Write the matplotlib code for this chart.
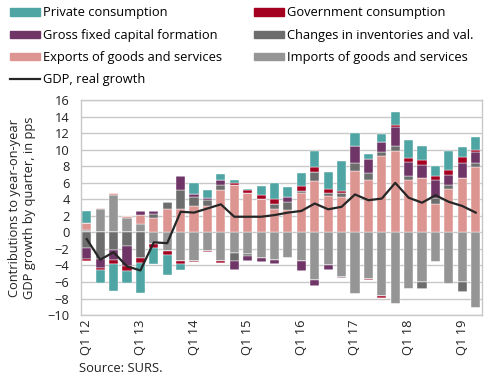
import numpy as np
import matplotlib
matplotlib.use("Agg")
import matplotlib.pyplot as plt
from matplotlib.patches import Patch
from matplotlib.lines import Line2D

plt.rcParams['font.family'] = ['Open Sans', 'DejaVu Sans']

quarters = [f"Q{q} {y}" for y in range(12, 20) for q in range(1, 5)][:30]
tick_labels = ["Q1 12", "Q1 13", "Q1 14", "Q1 15", "Q1 16", "Q1 17", "Q1 18", "Q1 19"]

private = [1.5, -1.5, -3.25, -1.45, -3.65, -1.9, -2.4, -0.7, 1.4, 0.9,
           0.7, 0.4, 0.2, 1.1, 1.9, 1.2, 1.6, 2.0, 2.1, 3.6,
           1.5, 0.7, 0.9, 1.6, 2.1, 1.7, 1.2, 2.3, 1.25, 1.6]
government = [-0.3, -0.3, -0.55, -0.55, -0.55, -0.5, -0.5, -0.3, -0.2, -0.15,
              -0.15, 0.2, 0.3, 0.5, 0.7, 0.0, 0.6, 0.6, 0.5, 0.2,
              0.0, -0.1, -0.2, 0.3, 0.5, 0.6, 0.5, 0.5, 0.7, 0.2]
gfcf = [-1.3, -1.1, -1.2, -2.4, 0.55, 0.4, 0.0, 1.7, 0.3, 0.3,
        0.6, -1.1, -0.5, -0.5, -0.5, 0.6, -1.2, -0.7, -0.5, -0.1,
        2.1, 1.6, 1.3, 2.2, 1.7, 1.6, 2.1, 1.3, 1.8, 1.3]
inventories = [-1.9, -3.2, -2.1, -1.7, -3.1, 0.4, 0.9, 2.3, 1.1, 0.7,
               0.7, -1.0, -0.3, 0.0, 0.6, 1.0, 0.3, 1.1, 0.4, 0.5,
               1.0, 0.9, 0.4, 0.6, 0.5, -0.8, 0.7, 0.4, -1.2, 0.5]
exports = [0.8, 0.05, 0.28, 0.25, 1.1, 1.8, 2.8, 2.8, 3.2, 3.2,
           5.1, 5.8, 4.8, 4.0, 2.8, 2.7, 4.75, 6.2, 4.35, 4.3,
           7.4, 6.35, 9.3, 9.9, 6.35, 6.6, 3.5, 5.3, 6.6, 7.95]
imports = [0.3, 2.85, 4.55, 1.7, 1.0, -1.4, -2.2, -3.5, -3.4, -2.2,
           -3.5, -2.5, -2.6, -3.1, -3.3, -3.1, -3.5, -5.8, -4.0, -5.4,
           -7.4, -5.6, -7.7, -8.6, -6.8, -6.0, -3.6, -6.2, -6.0, -9.2]
gdp = [-0.8, -3.3, -2.4, -4.1, -4.6, -1.2, -1.3, 2.5, 2.4, 2.9,
       3.4, 1.9, 1.9, 1.9, 2.1, 2.4, 2.6, 3.5, 2.8, 3.1,
       4.6, 3.9, 4.1, 6.0, 4.2, 3.6, 4.5, 3.7, 3.2, 2.4]

# stacking order (nearest zero first), as in the source chart
series = [
    ("Imports of goods and services", imports, "#959595"),
    ("Exports of goods and services", exports, "#DD9592"),
    ("Changes in inventories and val.", inventories, "#6D6D6D"),
    ("Gross fixed capital formation", gfcf, "#6F3566"),
    ("Government consumption", government, "#A4001F"),
    ("Private consumption", private, "#4FA4A4"),
]

FS = 9.3
fig = plt.figure(figsize=(4.9, 3.81), dpi=100)
ax = fig.add_axes([0.1647, 0.173, 0.819, 0.564])

x = np.arange(len(quarters))
pos_base = np.zeros(len(x))
neg_base = np.zeros(len(x))
width = 0.68
for name, vals, col in series:
    v = np.array(vals, dtype=float)
    pos = np.where(v > 0, v, 0)
    neg = np.where(v < 0, v, 0)
    ax.bar(x, pos, width, bottom=pos_base, color=col, edgecolor='white', linewidth=0.3, zorder=2)
    ax.bar(x, neg, width, bottom=neg_base, color=col, edgecolor='white', linewidth=0.3, zorder=2)
    pos_base += pos
    neg_base += neg

ax.plot(x, gdp, color='#262626', lw=1.6, zorder=3)

ax.set_ylim(-10, 16)
ax.set_yticks(np.arange(-10, 17, 2))
ax.set_xlim(-0.45, len(x) - 0.53)
ax.set_xticks(x[::4])
ax.set_xticklabels(tick_labels, rotation=90)
ax.tick_params(axis='both', length=0, labelsize=FS, colors='#222222')
ax.tick_params(axis='y', pad=8)
ax.tick_params(axis='x', pad=3)
ax.yaxis.grid(True, color='#C8C8C8', lw=1.0, zorder=0)
ax.set_axisbelow(True)
for s in ax.spines.values():
    s.set_color('#C8C8C8')
    s.set_linewidth(1.0)

fig.text(0.045, 0.454, "Contributions to year-on-year\nGDP growth by quarter, in pps",
         rotation=90, ha='center', va='center', fontsize=FS, color='#222222',
         linespacing=1.2)
fig.text(0.161, 0.032, "Source: SURS.", ha='left', va='center', fontsize=FS, color='#222222')

handles = [
    Patch(color="#4FA4A4", label="Private consumption"),
    Patch(color="#6F3566", label="Gross fixed capital formation"),
    Patch(color="#DD9592", label="Exports of goods and services"),
    Line2D([], [], color='#262626', lw=1.6, label="GDP, real growth"),
    Patch(color="#A4001F", label="Government consumption"),
    Patch(color="#6D6D6D", label="Changes in inventories and val."),
    Patch(color="#959595", label="Imports of goods and services"),
]
fig.legend(handles=handles, loc='upper left', bbox_to_anchor=(0.02, 0.983), ncol=2,
           frameon=False, fontsize=FS, handlelength=2.3, handleheight=0.5,
           handletextpad=0.25, columnspacing=2.5, labelspacing=0.72, borderaxespad=0,
           borderpad=0)

fig.savefig("out.png", dpi=100)
